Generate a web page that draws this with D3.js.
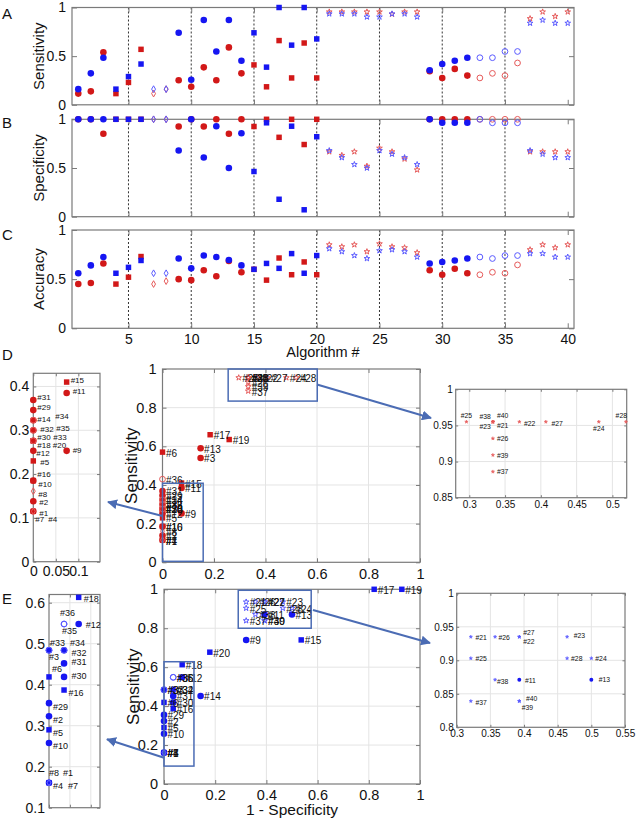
<!DOCTYPE html>
<html><head><meta charset="utf-8">
<script src="https://cdn.jsdelivr.net/npm/d3@7/dist/d3.min.js"></script>
<style>body{margin:0;background:#fff}svg{display:block}</style>
</head><body>
<svg id="chart" width="636" height="820"></svg>
<script>
// ---------------- DATA ----------------
const algorithms = d3.range(1, 41);
const markerTypes = ["circle","circle","circle","square","square","square","diamond","diamond",
  "circle","circle","circle","circle","circle","circle",
  "square","square","square","square","square","square",
  "star","star","star","star","star","star","star","star",
  "circle","circle","circle","circle","open","open","open","open",
  "star","star","star","star"];
const sensRed = [0.115,0.138,0.54,0.115,0.23,0.57,0.115,0.161,0.253,0.185,
  0.385,0.253,0.59,0.323,0.41,0.185,0.66,0.276,0.635,0.276,
  0.955,0.955,0.955,0.955,0.955,0.932,0.955,0.955,
  0.346,0.276,0.369,0.30,0.276,0.323,0.30,0.43,
  0.886,0.955,0.909,0.955];
const sensBlue = [0.161,0.323,0.484,0.161,0.29,0.419,0.161,0.161,0.74,0.258,
  0.871,0.548,0.871,0.452,0.74,0.387,1.0,0.613,1.0,0.677,
  0.935,0.935,0.935,0.903,0.903,0.935,0.935,0.903,
  0.355,0.419,0.452,0.484,0.484,0.484,0.548,0.548,
  0.839,0.871,0.839,0.839];
const specRed = [1,1,0.852,1,1,1,1,1,0.926,1,
  0.926,1,0.852,1,0.926,1,0.815,1,0.741,1,
  0.667,0.63,0.667,0.519,0.704,0.667,0.593,0.481,
  1,1,1,1,1,1,1,1,
  0.667,0.667,0.667,0.667];
const specBlue = [1,1,1,1,1,1,1,1,0.679,1,
  0.607,0.929,0.5,0.857,0.464,0.964,0.179,0.929,0.071,0.821,
  0.679,0.607,0.536,0.5,0.679,0.643,0.607,0.536,
  1,0.964,0.964,0.964,1,0.964,0.964,0.964,
  0.679,0.643,0.607,0.607];
const accRed = [0.45,0.46,0.66,0.45,0.52,0.73,0.45,0.48,0.50,0.49,
  0.59,0.53,0.685,0.57,0.60,0.49,0.715,0.545,0.675,0.545,
  0.85,0.83,0.85,0.78,0.86,0.83,0.82,0.77,
  0.59,0.545,0.605,0.56,0.545,0.57,0.56,0.645,
  0.80,0.85,0.82,0.85];
const accBlue = [0.56,0.64,0.725,0.56,0.62,0.69,0.56,0.56,0.71,0.61,
  0.74,0.725,0.695,0.64,0.60,0.66,0.61,0.76,0.56,0.74,
  0.81,0.78,0.74,0.71,0.79,0.80,0.78,0.725,
  0.66,0.675,0.69,0.71,0.725,0.71,0.74,0.74,
  0.76,0.76,0.725,0.725];
const algTicks = [5,10,15,20,25,30,35,40];
const dividerTicks = [5,10,15,20,25,30,35];
const rateTicks3 = [0,0.5,1];
const rocTicks = [0,0.2,0.4,0.6,0.8,1];

// ---------------- LAYOUT / STYLE ----------------
const FONT = '"Liberation Sans", Arial, Helvetica, sans-serif';
const RED = "#d21818", BLUE = "#1616f2";
const RED_L = "#e65a5a", BLUE_L = "#5a5aff";
const AXC = "#7a7a7a";
const svg = d3.select("#chart");

const symDef = {
  circle: {t: d3.symbolCircle, size: 34, fill: true},
  square: {t: d3.symbolSquare, size: 30, fill: true},
  diamond:{t: d3.symbolDiamond, size: 13, fill: false},
  star:   {t: d3.symbolStar, size: 10, fill: false},
  open:   {t: d3.symbolCircle, size: 26, fill: false}
};

function drawPoints(g, pts, color, light, x, y, k, smallFilledStars) {
  g.selectAll(null).data(pts).join("path")
    .attr("transform", d => `translate(${x(d.x)},${y(d.y)})`)
    .attr("d", d => d3.symbol(symDef[d.t].t, symDef[d.t].size * k * k)())
    .attr("fill", d => symDef[d.t].fill ? color : (smallFilledStars && d.t === "star" ? light : "none"))
    .attr("stroke", d => symDef[d.t].fill ? "none" : light)
    .attr("stroke-width", d => symDef[d.t].fill ? 0 : (smallFilledStars ? 0.5 : 1));
}

function fmt(d) { return String(+d.toFixed(3)); }

function matlabAxes(g, x, y, o) {
  const [x0, x1] = x.range(), [y0, y1] = y.range();
  const dx = x.domain(), dy = y.domain();
  if (o.grid) {
    g.append("g").selectAll("line")
      .data(o.xTicks.filter(t => t > dx[0] + 1e-9 && t < dx[1] - 1e-9)).join("line")
      .attr("x1", d => x(d)).attr("x2", d => x(d)).attr("y1", y0).attr("y2", y1)
      .attr("stroke", "#e4e4e4").attr("stroke-width", 1);
    g.append("g").selectAll("line")
      .data(o.yTicks.filter(t => t > dy[0] + 1e-9 && t < dy[1] - 1e-9)).join("line")
      .attr("y1", d => y(d)).attr("y2", d => y(d)).attr("x1", x0).attr("x2", x1)
      .attr("stroke", "#e4e4e4").attr("stroke-width", 1);
  }
  const tl = o.tickLen;
  const mk = (fn, sc, ticks, tr, labels) => {
    const a = fn(sc).tickValues(ticks).tickSize(-tl).tickPadding(o.pad)
      .tickFormat(labels ? fmt : () => "");
    const s = g.append("g").attr("transform", tr).call(a);
    s.select(".domain").remove();
    s.selectAll("line").attr("stroke", AXC);
    s.selectAll("text").attr("font-size", o.fontSize).attr("font-family", FONT).attr("fill", "#111");
  };
  mk(d3.axisBottom, x, o.xTicks, `translate(0,${y0})`, o.xLabels);
  mk(d3.axisTop, x, o.xTicks, `translate(0,${y1})`, false);
  mk(d3.axisLeft, y, o.yTicks, `translate(${x0},0)`, o.yLabels);
  mk(d3.axisRight, y, o.yTicks, `translate(${x1},0)`, false);
  g.append("rect").attr("x", x0).attr("y", y1).attr("width", x1 - x0).attr("height", y0 - y1)
    .attr("fill", "none").attr("stroke", AXC).attr("stroke-width", 1.2);
}

function text(g, s, x, y, size, opts = {}) {
  const t = g.append("text").attr("x", x).attr("y", y).attr("font-size", size)
    .attr("font-family", FONT).attr("fill", "#111").text(s);
  if (opts.anchor) t.attr("text-anchor", opts.anchor);
  if (opts.rotate) t.attr("transform", `rotate(-90,${x},${y})`);
  return t;
}

// ---------------- PANELS A-C ----------------
const xAlg = d3.scaleLinear().domain([0.5, 40.5]).range([72, 574]);
const panels = [
  {letter: "A", title: "Sensitivity", red: sensRed, blue: sensBlue, top: 7.5, bottom: 104.8, ly: 19},
  {letter: "B", title: "Specificity", red: specRed, blue: specBlue, top: 119.3, bottom: 216.7, ly: 128},
  {letter: "C", title: "Accuracy", red: accRed, blue: accBlue, top: 230, bottom: 328.3, ly: 240}
];
panels.forEach((p, pi) => {
  const g = svg.append("g");
  const y = d3.scaleLinear().domain([0, 1]).range([p.bottom, p.top]);
  g.selectAll(null).data(dividerTicks).join("line")
    .attr("x1", d => xAlg(d)).attr("x2", d => xAlg(d)).attr("y1", p.top).attr("y2", p.bottom)
    .attr("stroke", "#333").attr("stroke-width", 1).attr("stroke-dasharray", "2,2");
  matlabAxes(g, xAlg, y, {xTicks: algTicks, yTicks: rateTicks3, grid: false, tickLen: 5, pad: 6,
    fontSize: 14, xLabels: pi === 2, yLabels: true});
  const ptsR = algorithms.map((a, i) => ({x: a, y: p.red[i], t: markerTypes[i]}));
  const ptsB = algorithms.map((a, i) => ({x: a, y: p.blue[i], t: markerTypes[i]}));
  drawPoints(g, ptsR, RED, RED_L, xAlg, y, 1);
  drawPoints(g, ptsB, BLUE, BLUE_L, xAlg, y, 1);
  text(g, p.title, 44, (p.top + p.bottom) / 2, 15, {anchor: "middle", rotate: true});
  text(g, p.letter, 2, p.ly, 15);
});
text(svg, "Algorithm #", 323, 357, 14.5, {anchor: "middle"});

// ---------------- ROC PANELS ----------------
const labelDLeft = {31:[4,-3],29:[4,-3],14:[4,-1],34:[22,-4],32:[7,-1],35:[23,-2],30:[4,-3.5],33:[20,-3.5],
  18:[4,4.5],20:[19.5,5],12:[3,3],9:[6,0],5:[7,2],16:[4,-6],10:[5,4],8:[5,3],2:[6,1.5],1:[6,2],7:[2,8.5],4:[15,8.5],15:[4,-2],11:[6,-1.5]};
const labelELeft = {18:[5,2],36:[-4,-11],35:[-2,7],12:[7,1],33:[1,-7],3:[0,6.5],34:[6,-7],32:[7.5,2.4],31:[7.5,-1.7],
  6:[3,-7.5],30:[7.5,-1],16:[4.5,3],29:[4,3.5],2:[4,3.5],5:[4,3.5],10:[4,3.5],8:[0,-10],1:[14,-10],4:[4,3.5],7:[19,3.5]};
const labelDRight = {25:[0,-6.5,"middle"],38:[-2,-5.5,"end"],40:[4,-6,"start"],23:[-2,5,"end"],21:[4,4,"start"],
  26:[4,0,"start"],39:[4,0,"start"],37:[4,0,"start"],22:[4.7,1.3,"start"],27:[5.7,1.3,"start"],24:[0,6.7,"middle"],28:[-4.7,-6.7,"middle"]};
const labelERight = {21:[4.7,0.6],26:[3.4,0.6],27:[4,-4.7],22:[4,4.7],23:[6.6,-1.4],25:[4.7,0.3],28:[4,0.3],24:[4,0.3],
  38:[2,1.3],11:[5.7,0.3],13:[7.3,0],37:[4.7,1.7],40:[6.7,-3],39:[2.4,6.7]};

function rocPoints(sens, spec) {
  return algorithms.map((a, i) => ({id: a, x: 1 - spec[i], y: sens[i], t: markerTypes[i]}));
}
function inDomain(pts, x, y) {
  const [a, b] = x.domain(), [c, d] = y.domain();
  return pts.filter(p => p.x >= a - 1e-6 && p.x <= b + 1e-6 && p.y >= c - 1e-6 && p.y <= d - 0.003);
}
function drawLabels(g, pts, x, y, size, offsets, def) {
  const list = pts.filter(p => offsets ? offsets[p.id] : true);
  g.selectAll(null).data(list).join("text")
    .attr("x", d => x(d.x) + (offsets ? offsets[d.id][0] : def[0]))
    .attr("y", d => y(d.y) + (offsets ? offsets[d.id][1] : def[1]))
    .attr("dominant-baseline", "central")
    .attr("text-anchor", d => offsets && offsets[d.id][2] ? offsets[d.id][2] : "start")
    .attr("font-size", size).attr("font-family", FONT).attr("fill", "#111")
    .text(d => "#" + d.id);
}

const arrowColor = "#4b6cb4";
svg.append("defs").append("marker").attr("id", "ah").attr("viewBox", "0 0 10 10")
  .attr("refX", 9).attr("refY", 5).attr("markerWidth", 5).attr("markerHeight", 5)
  .attr("orient", "auto").append("path").attr("d", "M0,0L10,5L0,10z").attr("fill", arrowColor);

function rocBlock(cfg) {
  const g = svg.append("g");
  const pts = rocPoints(cfg.sens, cfg.spec);
  // main
  const x = d3.scaleLinear().domain([0, 1]).range(cfg.mainX);
  const y = d3.scaleLinear().domain([0, 1]).range(cfg.mainY);
  matlabAxes(g, x, y, {xTicks: rocTicks, yTicks: rocTicks, grid: true, tickLen: 4, pad: 6,
    fontSize: 14.5, xLabels: true, yLabels: true});
  drawPoints(g, pts, cfg.color, cfg.light, x, y, 1);
  drawLabels(g, pts, x, y, 10, null, [3.5, 1]);
  cfg.boxes.forEach(b => {
    g.append("rect").attr("x", x(b[0])).attr("y", y(b[3])).attr("width", x(b[1]) - x(b[0]))
      .attr("height", y(b[2]) - y(b[3])).attr("fill", "none").attr("stroke", arrowColor).attr("stroke-width", 1.5);
  });
  text(g, "Sensitivity", cfg.mainX[0] - 25, (cfg.mainY[0] + cfg.mainY[1]) / 2, 17, {anchor: "middle", rotate: true});
  // left inset
  const lx = d3.scaleLinear().domain(cfg.lDomX).range(cfg.lX);
  const ly = d3.scaleLinear().domain(cfg.lDomY).range(cfg.lY);
  matlabAxes(g, lx, ly, {xTicks: cfg.lTicksX, yTicks: cfg.lTicksY, grid: true, tickLen: 3, pad: 4,
    fontSize: 14, xLabels: cfg.lXLabels, yLabels: true});
  const lp = inDomain(pts, lx, ly);
  drawPoints(g, lp, cfg.color, cfg.light, lx, ly, 1);
  drawLabels(g, lp, lx, ly, cfg.lFont, cfg.lLabels);
  // right inset
  const rx = d3.scaleLinear().domain(cfg.rDomX).range(cfg.rX);
  const ry = d3.scaleLinear().domain(cfg.rDomY).range(cfg.rY);
  matlabAxes(g, rx, ry, {xTicks: cfg.rTicksX, yTicks: cfg.rTicksY, grid: true, tickLen: 2.5, pad: 3,
    fontSize: 10, xLabels: true, yLabels: true});
  const rp = inDomain(pts, rx, ry);
  drawPoints(g, rp, cfg.color, cfg.light, rx, ry, 0.6, true);
  drawLabels(g, rp, rx, ry, 6.8, cfg.rLabels);
  // arrows
  cfg.arrows.forEach(a => {
    g.append("line").attr("x1", a[0]).attr("y1", a[1]).attr("x2", a[2]).attr("y2", a[3])
      .attr("stroke", arrowColor).attr("stroke-width", 2).attr("marker-end", "url(#ah)");
  });
  text(g, cfg.letter, 2, cfg.letterY, 15);
  return {x, y};
}

const D = rocBlock({
  letter: "D", letterY: 360, sens: sensRed, spec: specRed, color: RED, light: RED_L,
  mainX: [162.5, 420], mainY: [562.3, 369],
  boxes: [[0.255, 0.601, 0.834, 1.0], [0, 0.158, 0.005, 0.409]],
  lDomX: [0, 0.148], lDomY: [0, 0.43], lX: [33.3, 100], lY: [561.7, 373.3],
  lTicksX: [0, 0.05, 0.1], lTicksY: [0, 0.1, 0.2, 0.3, 0.4], lXLabels: true, lFont: 8, lLabels: labelDLeft,
  rDomX: [0.281, 0.52], rDomY: [0.85, 1], rX: [455.7, 626.7], rY: [497.7, 389.3],
  rTicksX: [0.3, 0.35, 0.4, 0.45, 0.5], rTicksY: [0.85, 0.9, 0.95, 1], rLabels: labelDRight,
  arrows: [[317, 384.5, 431, 418], [162.5, 516, 108, 502]]
});
const E = rocBlock({
  letter: "E", letterY: 604, sens: sensBlue, spec: specBlue, color: BLUE, light: BLUE_L,
  mainX: [164, 420], mainY: [784, 589.3],
  boxes: [[0.29, 0.575, 0.8, 0.995], [0, 0.117, 0.092, 0.628]],
  lDomX: [0, 0.122], lDomY: [0.1, 0.62], lX: [49, 100], lY: [807.7, 594.5],
  lTicksX: [0, 0.05, 0.1], lTicksY: [0.1, 0.2, 0.3, 0.4, 0.5, 0.6], lXLabels: false, lFont: 9, lLabels: labelELeft,
  rDomX: [0.3, 0.55], rDomY: [0.8, 1], rX: [456.7, 625], rY: [727.3, 593.3],
  rTicksX: [0.3, 0.35, 0.4, 0.45, 0.5, 0.55], rTicksY: [0.8, 0.85, 0.9, 0.95, 1], rLabels: labelERight,
  arrows: [[313, 610, 430, 643], [164, 757.7, 107, 739.3]]
});
text(svg, "1 - Specificity", 292, 815, 15.5, {anchor: "middle"});
</script>
</body></html>
